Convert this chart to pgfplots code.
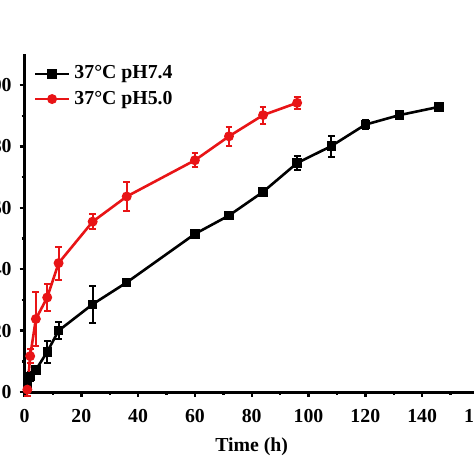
\documentclass[border=0pt]{standalone}
\usepackage{fontspec}
\setmainfont{Liberation Serif}
\usepackage{pgfplots}
\pgfplotsset{compat=1.18}
\definecolor{myred}{RGB}{232,20,22}
\begin{document}
\begin{tikzpicture}
\begin{axis}[
  x=1.42pt, y=1.535pt,
  xmin=0, xmax=160, ymin=0, ymax=110,
  axis x line*=bottom, axis y line*=left,
  axis line style={line width=1.5pt, -},
  xtick={0,20,...,160}, ytick={0,20,...,100},
  minor x tick num=1, minor y tick num=1,
  tick align=outside,
  major tick length=2.4pt, minor tick length=1.4pt,
  every tick/.style={line width=1.2pt, black},
  /pgf/number format/assume math mode=true,
  tick label style={font=\fontsize{9.9}{11.7}\selectfont\bfseries},
  xticklabel style={yshift=-2.5pt},
  yticklabel style={xshift=-0.5pt},
  xlabel={Time (h)},
  xlabel style={font=\fontsize{9.9}{11.7}\selectfont\bfseries, yshift=-1pt},
  legend style={at={(0.015,0.985)}, anchor=north west, draw=none, fill=none,
    font=\fontsize{9.9}{11.7}\selectfont\bfseries, row sep=0.5pt,
    inner sep=1pt, cells={anchor=west}},
  legend cell align=left,
  clip=false,
]
\addplot+[black, line width=1.3pt, mark=square*, mark size=1.7pt,
  mark options={solid, fill=black},
  error bars/.cd, y dir=both, y explicit,
  error bar style={line width=1pt, black},
  error mark options={rotate=90, mark size=1.7pt, line width=1pt, black}]
  coordinates {
  (1,2.8) +- (0,2)
  (2,5) +- (0,1.5)
  (4,7.2) +- (0,1)
  (8,13.1) +- (0,3.6)
  (12,20.0) +- (0,2.7)
  (24,28.6) +- (0,6)
  (36,35.7) +- (0,1)
  (60,51.5) +- (0,0.5)
  (72,57.5) +- (0,0.8)
  (84,65.2) +- (0,1)
  (96,74.6) +- (0,2.2)
  (108,80.1) +- (0,3.4)
  (120,87.1) +- (0,1.5)
  (132,90.2) +- (0,1.2)
  (146,92.9) +- (0,1)
  };
\addlegendentry{37°C pH7.4}
\addplot+[myred, line width=1.3pt, mark=*, mark size=1.8pt,
  mark options={solid, fill=myred},
  error bars/.cd, y dir=both, y explicit,
  error bar style={line width=1pt, myred},
  error mark options={rotate=90, mark size=1.7pt, line width=1pt, myred}]
  coordinates {
  (1,0.8) +- (0,2)
  (2,11.7) +- (0,2.2)
  (4,23.8) +- (0,8.8)
  (8,30.8) +- (0,4.3)
  (12,42.0) +- (0,5.4)
  (24,55.5) +- (0,2.4)
  (36,63.7) +- (0,4.6)
  (60,75.5) +- (0,2.2)
  (72,83.3) +- (0,3.1)
  (84,90.2) +- (0,2.8)
  (96,94.2) +- (0,1.9)
  };
\addlegendentry{37°C pH5.0}
\coordinate (bbll) at (axis cs:-8.63,-26.7);
\coordinate (bbur) at (axis cs:158.27,127.7);
\end{axis}
\pgfresetboundingbox
\path[use as bounding box] (bbll) rectangle (bbur);
\end{tikzpicture}
\end{document}
